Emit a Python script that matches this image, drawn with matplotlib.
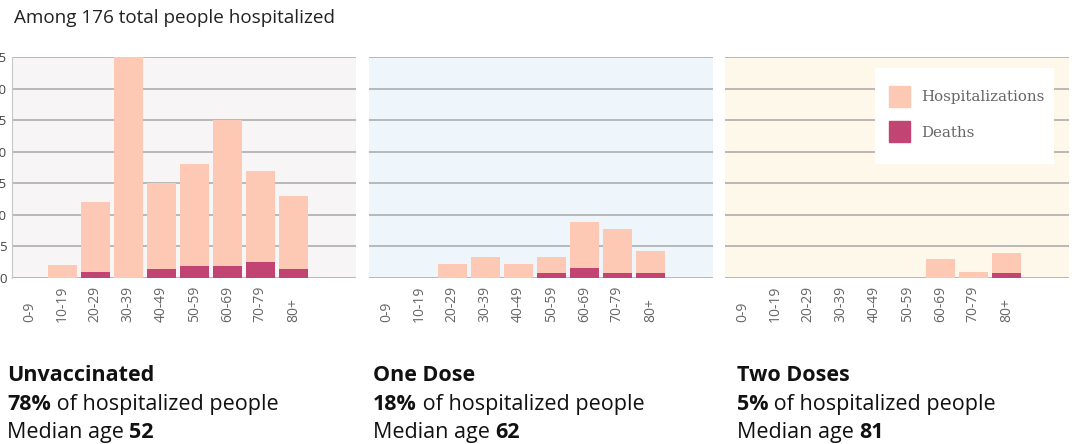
import matplotlib.pyplot as plt
from matplotlib.patches import Patch, Rectangle

# Data
age_groups = ["0-9", "10-19", "20-29", "30-39", "40-49", "50-59", "60-69", "70-79", "80+"]
unvax_hosp = [0, 2, 12, 35, 15, 18, 25, 17, 13]
unvax_deaths = [0, 0, 1, 0, 1.4, 1.9, 1.9, 2.6, 1.4]
one_hosp = [0, 0, 2.2, 3.3, 2.2, 3.3, 8.8, 7.7, 4.3]
one_deaths = [0, 0, 0, 0, 0, 0.85, 1.6, 0.85, 0.85]
two_hosp = [0, 0, 0, 0, 0, 0, 3, 1, 4]
two_deaths = [0, 0, 0, 0, 0, 0, 0, 0, 0.85]

panel_titles = ["Unvaccinated", "One Dose", "Two Doses"]
panel_pct = ["78%", "18%", "5%"]
panel_median = ["52", "62", "81"]
panel_bg = ["#f7f5f5", "#eef5fb", "#fdf8ea"]

HOSP_COLOR = "#fdc8b4"
DEATH_COLOR = "#c24472"
GRID_COLOR = "#b3b3b3"
SANS = "Open Sans"

W, H = 1074, 444
fig = plt.figure(figsize=(W / 100, H / 100), dpi=100)

panels = [(unvax_hosp, unvax_deaths), (one_hosp, one_deaths), (two_hosp, two_deaths)]
lefts = [12, 369, 725]
axes = []
x = list(range(len(age_groups)))
for i, ((hosp, deaths), left) in enumerate(zip(panels, lefts)):
    ax = fig.add_axes([left / W, (H - 278) / H, 344 / W, 221 / H])
    ax.set_facecolor(panel_bg[i])
    ax.set_axisbelow(True)
    ax.bar(x, hosp, width=0.89, color=HOSP_COLOR, zorder=2)
    ax.bar(x, deaths, width=0.89, color=DEATH_COLOR, zorder=3)
    ax.set_xlim(-0.525, 9.9)
    ax.set_ylim(0, 35)
    ax.set_yticks(range(0, 36, 5))
    ax.grid(axis="y", color=GRID_COLOR, linewidth=1.3)
    ax.set_xticks(x)
    # labels start at a common bottom line, reading upward
    ax.set_xticklabels(age_groups, rotation=90, fontsize=10, color="#666666",
                       family=SANS, va="bottom")
    ax.tick_params(axis="x", length=0, pad=31.5)
    ax.tick_params(axis="y", length=0)
    for s in ["top", "right", "bottom"]:
        ax.spines[s].set_visible(False)
    if i == 0:
        ax.spines["left"].set_color("#c8c8c8")
        ax.tick_params(axis="y", labelsize=9.5, labelcolor="#444444", pad=4)
        for lab in ax.get_yticklabels():
            lab.set_family(SANS)
    else:
        ax.spines["left"].set_visible(False)
        ax.set_yticklabels([])
    axes.append(ax)

# Legend in the last panel: white box drawn separately, legend without frame
box = Rectangle((875 / W, 1 - 164 / H), 179 / W, 96 / H, transform=fig.transFigure,
                facecolor="white", edgecolor="none", zorder=4, clip_on=False)
axes[2].add_artist(box)
handles = [Patch(color=HOSP_COLOR, label="Hospitalizations"),
           Patch(color=DEATH_COLOR, label="Deaths")]
leg = axes[2].legend(handles=handles, loc="upper left",
                     bbox_to_anchor=((889 - 725) / 344, (278 - 86) / 221),
                     borderaxespad=0, borderpad=0, frameon=False,
                     prop={"family": "DejaVu Serif", "size": 10.8},
                     handlelength=1.4, handleheight=1.78, labelspacing=0.95,
                     handletextpad=0.75, labelcolor="#666666")
leg.set_zorder(5)

# Header
fig.text(14 / W, 1 - 23 / H, "Among 176 total people hospitalized", fontsize=13.6,
         family=SANS, color="#222222", va="baseline")

fig.canvas.draw()
renderer = fig.canvas.get_renderer()


def rich_line(x_px, y_px, parts, size=15.5):
    # draw text segments one after another, some bold
    cur = x_px
    for txt, bold in parts:
        t = fig.text(cur / W, 1 - y_px / H, txt, fontsize=size, family=SANS,
                     fontweight="bold" if bold else "normal", color="#111111",
                     va="baseline", ha="left")
        bb = t.get_window_extent(renderer)
        cur += bb.width


text_x = [7, 373, 737]
for i in range(3):
    rich_line(text_x[i], 381, [(panel_titles[i], True)])
    rich_line(text_x[i], 410, [(panel_pct[i], True), (" of hospitalized people", False)])
    rich_line(text_x[i], 438, [("Median age ", False), (panel_median[i], True)])

fig.savefig("out.png", dpi=100)
